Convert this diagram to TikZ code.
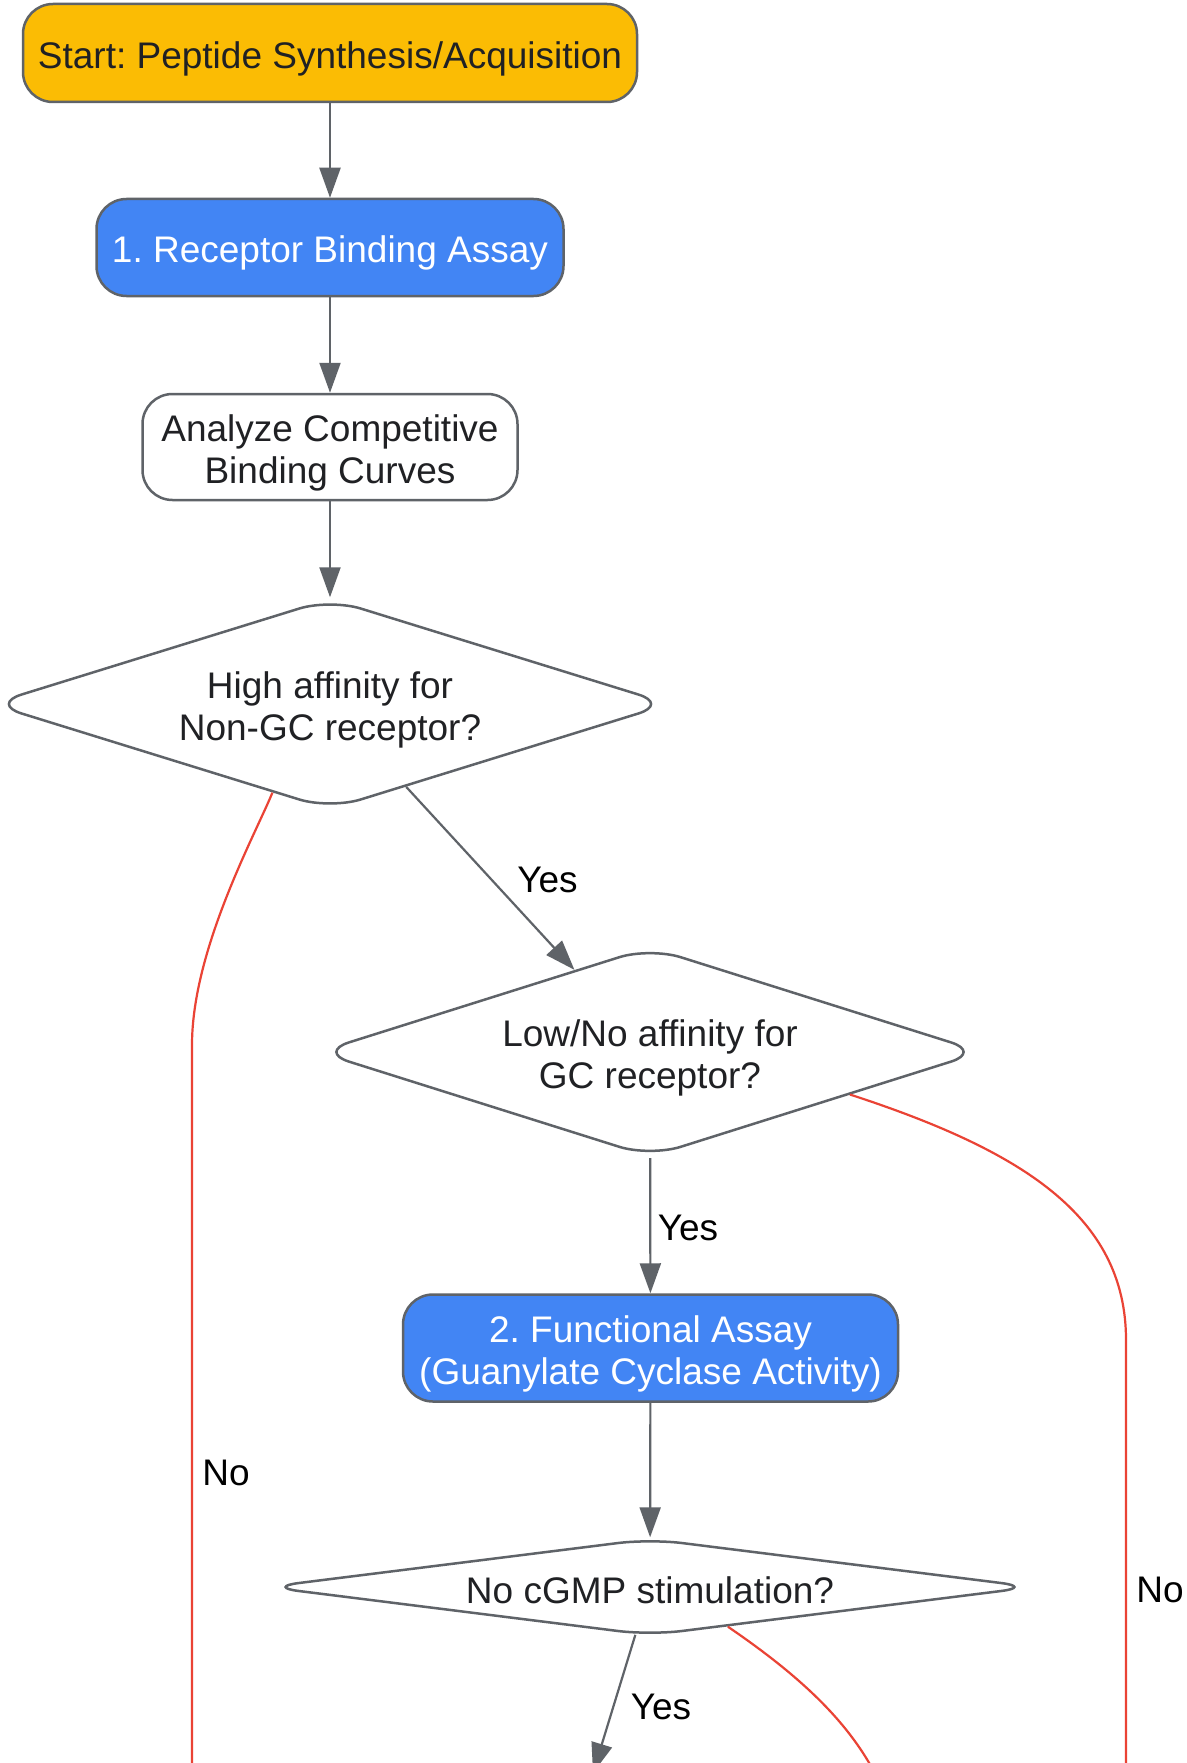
\documentclass[tikz,border=0pt]{standalone}
\usepackage{fontspec}
\setmainfont{Liberation Sans}
\usetikzlibrary{shapes.geometric,arrows.meta}
\definecolor{cyellow}{HTML}{FBBC04}
\definecolor{cblue}{HTML}{4285F4}
\definecolor{cgray}{HTML}{5F6368}
\definecolor{cred}{HTML}{EA4335}
\definecolor{ctext}{HTML}{202124}
\newcommand\hrst{\rule{0pt}{38pt}}
\newcommand\hrsd{\rule{0pt}{33.5pt}}
\frenchspacing
\begin{document}
\begin{tikzpicture}[x=1pt,y=-1pt,
  every node/.style={font=\fontsize{37}{42}\selectfont},
  box/.style={draw=cgray, line width=2.5pt, rounded corners=30pt, align=center, inner sep=0pt, text=ctext},
  startbox/.style={box, fill=cyellow},
  bluebox/.style={box, fill=cblue, text=white},
  whitebox/.style={box, fill=white},
  decision/.style={diamond, draw=cgray, line width=2.5pt, rounded corners=32pt, aspect=3.2, inner sep=0pt, align=center, text=ctext, fill=white},
  flow/.style={draw=cgray, line width=2.2pt, -{Triangle[length=30pt,width=21pt]}},
  noflow/.style={draw=cred, line width=2.2pt},
  lbl/.style={text=black, inner sep=0pt}
]
\useasboundingbox (0,0) rectangle (1186,1763);
\fill[white] (0,0) rectangle (1186,1763);
\clip (0,0) rectangle (1186,1763);

\node[startbox, minimum width=614pt, minimum height=98pt] (start) at (330,53) {\hrst Start: Peptide Synthesis/Acquisition};
\node[bluebox, minimum width=467pt, minimum height=97pt] (rba) at (330,247.5) {\hrst 1. Receptor Binding Assay};
\node[whitebox, minimum width=375pt, minimum height=106pt] (acb) at (330,447) {\hrst Analyze Competitive\\Binding Curves};
\node[decision, minimum width=679pt, minimum height=211pt] (d1) at (330,704) {\hrst High affinity for\\Non-GC receptor?};
\node[decision, minimum width=664pt, minimum height=210pt] (d2) at (650,1052) {\hrst Low/No affinity for\\GC receptor?};
\node[bluebox, minimum width=495pt, minimum height=107pt] (fa) at (650.5,1348) {\hrst 2. Functional Assay\\(Guanylate Cyclase Activity)};
\node[decision, aspect=8, minimum width=767pt, minimum height=97pt] (d3) at (650,1587) {\hrsd No cGMP stimulation?};

\coordinate (yesB) at (593,1773);
\coordinate (noL) at (192,1800);
\coordinate (noR) at (1126,1800);
\coordinate (noB) at (900,1840);

\draw[flow] (start) -- (rba);
\draw[flow] (rba) -- (acb);
\draw[flow] (acb) -- (d1);
\draw[flow] (d1) -- (d2);
\draw[flow] (d2) -- (fa);
\draw[flow] (fa) -- (d3);
\draw[flow] (d3) -- (yesB);

\draw[noflow] (d1.237) .. controls (255,835) and (192,950) .. (192,1045) -- (noL);
\draw[noflow] (d2.348) .. controls (1020,1150) and (1126,1215) .. (1126,1340) -- (noR);
\draw[noflow] (d3.333) .. controls (837,1701) and (880,1760) .. (noB);

\node[lbl] (yes1) at (547.5,880) {Yes};
\node[lbl] (yes2) at (688,1228) {Yes};
\node[lbl] (yes3) at (661,1707) {Yes};
\node[lbl] (no1) at (226,1473) {No};
\node[lbl] (no2) at (1160,1590) {No};
\end{tikzpicture}
\end{document}
